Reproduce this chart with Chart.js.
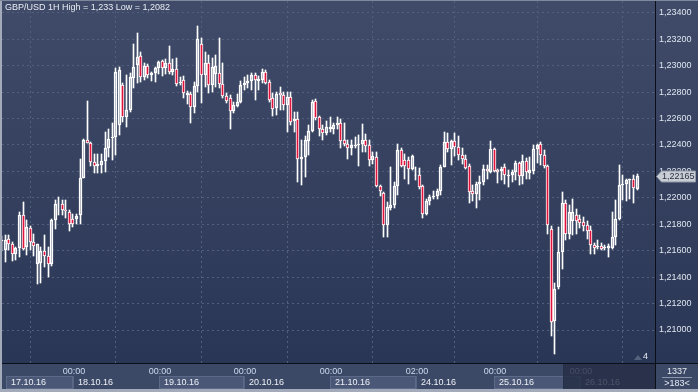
<!DOCTYPE html>
<html><head><meta charset="utf-8">
<script src="https://cdn.jsdelivr.net/npm/chart.js@4"></script>
<style>html,body{margin:0;padding:0;background:#2e3956;overflow:hidden}#wrap{position:relative;width:698px;height:392px}</style>
</head><body><div id="wrap"><canvas id="c" width="698" height="392"></canvas></div>
<script>
const titleText = 'GBP/USD 1H High = 1,233 Low = 1,2082';
const opens  = [1.21673,1.21608,1.21691,1.21653,1.21577,1.21623,1.21868,1.21628,1.21774,1.21666,1.21502,1.21509,1.21598,1.21557,1.21502,1.21835,1.21952,1.21956,1.21911,1.21896,1.21843,1.21840,1.21868,1.22146,1.22436,1.22411,1.22267,1.22239,1.22251,1.22277,1.22378,1.22453,1.22461,1.22549,1.22852,1.22613,1.22663,1.22908,1.23004,1.23075,1.22916,1.22999,1.22928,1.22941,1.22984,1.23034,1.22984,1.23017,1.22948,1.22974,1.22865,1.22890,1.22777,1.22784,1.22683,1.22845,1.23163,1.22928,1.23017,1.22853,1.22936,1.22941,1.22858,1.22769,1.22752,1.22658,1.22694,1.22726,1.22853,1.22865,1.22883,1.22928,1.22883,1.22890,1.22954,1.22878,1.22752,1.22676,1.22789,1.22777,1.22701,1.22759,1.22582,1.22593,1.22297,1.22305,1.22431,1.22507,1.22731,1.22608,1.22524,1.22491,1.22524,1.22524,1.22550,1.22562,1.22436,1.22406,1.22373,1.22391,1.22403,1.22406,1.22436,1.22398,1.22284,1.22309,1.22087,1.22036,1.21791,1.21923,1.21943,1.22087,1.22360,1.22284,1.22284,1.22216,1.22170,1.22175,1.22087,1.21880,1.21973,1.22006,1.22014,1.22049,1.22233,1.22423,1.22372,1.22428,1.22385,1.22327,1.22291,1.22238,1.22049,1.22031,1.22102,1.22120,1.22221,1.22195,1.22372,1.22213,1.22203,1.22233,1.22162,1.22170,1.22195,1.22266,1.22162,1.22279,1.22188,1.22203,1.22372,1.22405,1.22322,1.22238,1.21766,1.21067,1.21324,1.21589,1.21963,1.21729,1.21822,1.21873,1.21842,1.21817,1.21792,1.21754,1.21645,1.21628,1.21635,1.21620,1.21620,1.21620,1.21703,1.21837,1.22100,1.22107,1.22133,1.22140,1.22064];
const highs  = [1.21709,1.21716,1.21716,1.21666,1.21628,1.21893,1.21969,1.21830,1.21784,1.21729,1.21653,1.21628,1.21716,1.21628,1.21840,1.21986,1.22007,1.21986,1.21981,1.21906,1.21880,1.21880,1.22297,1.22441,1.22731,1.22423,1.22335,1.22335,1.22335,1.22494,1.22524,1.22562,1.22984,1.22991,1.22865,1.22928,1.22941,1.23161,1.23244,1.23105,1.23017,1.23009,1.22953,1.22991,1.23034,1.23044,1.23049,1.23150,1.23049,1.23054,1.22916,1.22923,1.22807,1.22802,1.22878,1.23300,1.23206,1.23100,1.23080,1.23055,1.23080,1.23206,1.23017,1.22789,1.22774,1.22726,1.22784,1.22885,1.22911,1.22928,1.22941,1.22941,1.22921,1.22971,1.22966,1.22890,1.22789,1.22802,1.22840,1.22802,1.22802,1.22802,1.22651,1.22651,1.22436,1.22466,1.22550,1.22739,1.22744,1.22618,1.22550,1.22580,1.22613,1.22562,1.22613,1.22593,1.22567,1.22436,1.22436,1.22461,1.22474,1.22557,1.22481,1.22436,1.22347,1.22347,1.22094,1.22044,1.21968,1.22233,1.22120,1.22410,1.22377,1.22334,1.22309,1.22327,1.22233,1.22226,1.22094,1.21988,1.22019,1.22049,1.22064,1.22246,1.22498,1.22493,1.22435,1.22493,1.22468,1.22377,1.22327,1.22258,1.22094,1.22120,1.22162,1.22246,1.22246,1.22430,1.22380,1.22220,1.22233,1.22258,1.22208,1.22213,1.22279,1.22271,1.22322,1.22304,1.22309,1.22397,1.22405,1.22423,1.22359,1.22246,1.21784,1.21354,1.21779,1.22044,1.21981,1.21948,1.21989,1.21913,1.21873,1.21855,1.21822,1.21787,1.21660,1.21678,1.21660,1.21645,1.21653,1.21893,1.21981,1.22251,1.22176,1.22145,1.22145,1.22176,1.22183];
const lows   = [1.21598,1.21514,1.21603,1.21522,1.21532,1.21552,1.21608,1.21565,1.21603,1.21557,1.21345,1.21355,1.21476,1.21401,1.21484,1.21767,1.21868,1.21868,1.21850,1.21749,1.21779,1.21805,1.21805,1.22146,1.22411,1.22239,1.22189,1.22189,1.22191,1.22196,1.22310,1.22284,1.22322,1.22474,1.22575,1.22537,1.22650,1.22827,1.22865,1.22878,1.22890,1.22903,1.22883,1.22878,1.22933,1.22923,1.22933,1.22933,1.22928,1.22847,1.22852,1.22756,1.22706,1.22562,1.22638,1.22802,1.22714,1.22840,1.22789,1.22802,1.22840,1.22827,1.22752,1.22714,1.22524,1.22638,1.22683,1.22714,1.22815,1.22827,1.22815,1.22739,1.22815,1.22865,1.22858,1.22726,1.22618,1.22625,1.22663,1.22663,1.22499,1.22550,1.22499,1.22120,1.22095,1.22158,1.22322,1.22499,1.22587,1.22466,1.22436,1.22474,1.22499,1.22486,1.22524,1.22380,1.22391,1.22297,1.22322,1.22373,1.22239,1.22348,1.22348,1.22239,1.22259,1.22082,1.22014,1.21703,1.21703,1.21905,1.21923,1.22019,1.22233,1.22145,1.22107,1.22208,1.22132,1.22069,1.21847,1.21872,1.21948,1.21988,1.21988,1.22019,1.22233,1.22347,1.22246,1.22317,1.22284,1.22259,1.22221,1.21960,1.21976,1.21925,1.21986,1.22094,1.22145,1.22188,1.22195,1.22112,1.22132,1.22102,1.22082,1.22120,1.22132,1.22094,1.22107,1.22145,1.22145,1.22183,1.22264,1.22246,1.22228,1.21728,1.20958,1.20820,1.21311,1.21463,1.21678,1.21691,1.21716,1.21729,1.21772,1.21746,1.21691,1.21577,1.21577,1.21610,1.21602,1.21602,1.21552,1.21610,1.21645,1.21830,1.21981,1.21974,1.21994,1.21963,1.22057];
const closes = [1.21683,1.21683,1.21648,1.21572,1.21623,1.21868,1.21615,1.21779,1.21666,1.21638,1.21648,1.21598,1.21557,1.21497,1.21835,1.21956,1.21956,1.21911,1.21901,1.21805,1.21805,1.21865,1.22146,1.22436,1.22411,1.22272,1.22242,1.22254,1.22277,1.22378,1.22448,1.22461,1.22953,1.22966,1.22613,1.22663,1.22916,1.22991,1.23067,1.22911,1.22999,1.22928,1.22941,1.22984,1.23029,1.22984,1.23017,1.22948,1.22974,1.22858,1.22878,1.22789,1.22794,1.22683,1.22845,1.23199,1.22928,1.23017,1.22853,1.22991,1.22997,1.22858,1.22769,1.22734,1.22658,1.22701,1.22726,1.22853,1.22865,1.22883,1.22928,1.22890,1.22895,1.22954,1.22865,1.22739,1.22668,1.22784,1.22777,1.22701,1.22764,1.22575,1.22593,1.22297,1.22305,1.22436,1.22507,1.22726,1.22600,1.22524,1.22491,1.22532,1.22532,1.22550,1.22562,1.22428,1.22406,1.22373,1.22398,1.22403,1.22410,1.22436,1.22393,1.22284,1.22317,1.22087,1.22049,1.21791,1.21930,1.21943,1.22087,1.22360,1.22241,1.22241,1.22216,1.22317,1.22175,1.22082,1.21880,1.21973,1.22006,1.22014,1.22049,1.22233,1.22423,1.22372,1.22428,1.22385,1.22327,1.22291,1.22226,1.22044,1.22031,1.22102,1.22120,1.22221,1.22203,1.22372,1.22203,1.22198,1.22221,1.22170,1.22170,1.22195,1.22266,1.22162,1.22279,1.22195,1.22208,1.22372,1.22397,1.22322,1.22238,1.21791,1.21059,1.21311,1.21589,1.21963,1.21729,1.21893,1.21893,1.21822,1.21812,1.21787,1.21746,1.21645,1.21620,1.21635,1.21615,1.21628,1.21635,1.21703,1.21842,1.22100,1.22107,1.22133,1.22140,1.22075,1.22165];
const yTickValues = [1.210,1.212,1.214,1.216,1.218,1.220,1.222,1.224,1.226,1.228,1.230,1.232,1.234];
const timeTickIndex = [20,44,68,92,116,138,162];
const timeTickLabels = ['00:00','00:00','00:00','00:00','02:00','00:00','00:00'];
const dateLabels = ['17.10.16','18.10.16','19.10.16','20.10.16','21.10.16','24.10.16','25.10.16','26.10.16'];
const lastPrice = 1.22165;
const barCountText = '1337';
const visibleBarsText = '>183<';
const markerText = '4';

Chart.defaults.font.family = '"Liberation Sans", Arial, sans-serif';
const FONT = '9px "Liberation Sans", Arial, sans-serif';
const idx = opens.map((_, i) => i);
const upperWick = idx.map(i => ({x: i, y: [Math.max(opens[i], closes[i]), highs[i]]}));
const lowerWick = idx.map(i => ({x: i, y: [lows[i], Math.min(opens[i], closes[i])]}));
const bodies = idx.map(i => ({x: i, y: [Math.min(opens[i], closes[i]), Math.max(opens[i], closes[i])]}));
const fmt = v => v.toFixed(5).replace('.', ',');

const bgPlugin = {
  id: 'bg',
  beforeDraw(chart) {
    const ctx = chart.ctx;
    const ca = chart.chartArea;
    const g = ctx.createLinearGradient(0, 0, 0, ca.bottom);
    g.addColorStop(0, '#3f4b68');
    g.addColorStop(1, '#2a3655');
    ctx.save();
    ctx.fillStyle = g;
    ctx.fillRect(0, 0, chart.width, ca.bottom);
    ctx.fillStyle = '#3c4966';
    ctx.fillRect(0, ca.bottom, chart.width, chart.height - ca.bottom);
    ctx.restore();
  }
};

const snapPlugin = {
  id: 'snap',
  beforeDatasetsDraw(chart) {
    chart.data.datasets.forEach((ds, di) => {
      chart.getDatasetMeta(di).data.forEach(el => {
        el.x = Math.floor(el.x) + 0.5;
        el.y = Math.round(el.y);
        el.base = Math.round(el.base);
      });
    });
  }
};

const decoPlugin = {
  id: 'deco',
  afterDraw(chart) {
    const ctx = chart.ctx;
    const ca = chart.chartArea;
    const xs = chart.scales.x, ys = chart.scales.y;
    ctx.save();
    ctx.font = FONT;
    ctx.fillStyle = '#e8ecf3';
    ctx.textBaseline = 'middle';
    ctx.textAlign = 'left';
    ctx.fillText(titleText, 5, 8);

    const bounds = [ca.left + 4].concat(timeTickIndex.map(v => Math.round(xs.getPixelForValue(v)))).concat([ca.right]);
    for (let k = 0; k < dateLabels.length; k++) {
      const x0 = bounds[k], x1 = bounds[k + 1];
      if (k % 2 === 0) {
        ctx.fillStyle = '#4a5776';
        ctx.fillRect(x0, 376, x1 - x0, 13);
        ctx.strokeStyle = '#5c6987';
        ctx.lineWidth = 1;
        ctx.strokeRect(x0 + 0.5, 376.5, x1 - x0 - 1, 12);
      } else {
        ctx.strokeStyle = '#56637f';
        ctx.beginPath(); ctx.moveTo(x0 + 0.5, 376); ctx.lineTo(x0 + 0.5, 389); ctx.stroke();
      }
      ctx.fillStyle = '#eef1f6';
      ctx.textAlign = 'left';
      ctx.fillText(dateLabels[k], x0 + 5, 383);
    }
    ctx.fillStyle = '#cdd9ee';
    ctx.textAlign = 'center';
    timeTickIndex.forEach((v, k) => {
      ctx.fillText(timeTickLabels[k], Math.round(xs.getPixelForValue(v)) + 1, 371.5);
    });
    ctx.fillStyle = 'rgba(36,45,68,0.82)';
    ctx.fillRect(563, ca.bottom, ca.right - 563, 390 - ca.bottom);
    ctx.strokeStyle = '#262f48';
    ctx.beginPath(); ctx.moveTo(563.5, ca.bottom); ctx.lineTo(563.5, 390); ctx.stroke();

    ctx.strokeStyle = '#0b0e16';
    ctx.lineWidth = 1;
    ctx.beginPath();
    ctx.moveTo(ca.right + 0.5, 0); ctx.lineTo(ca.right + 0.5, 390);
    ctx.moveTo(ca.left, ca.bottom + 0.5); ctx.lineTo(chart.width, ca.bottom + 0.5);
    ctx.stroke();
    ctx.fillStyle = '#a3abbb';
    ctx.fillRect(0, 0, 2, chart.height);
    ctx.fillRect(0, 389, chart.width, 3);
    ctx.fillStyle = '#7e889c';
    ctx.fillRect(0, 0, chart.width, 1);

    ctx.fillStyle = '#55627e';
    ctx.beginPath(); ctx.moveTo(634, 360); ctx.lineTo(638, 355); ctx.lineTo(642, 360); ctx.closePath(); ctx.fill();
    ctx.fillStyle = '#e6ebf3';
    ctx.textAlign = 'left';
    ctx.fillText(markerText, 643, 357);

    ctx.textAlign = 'center';
    ctx.fillStyle = '#e6ebf3';
    ctx.fillText(barCountText, 677, 371.5);
    ctx.fillText(visibleBarsText, 677, 384);
    ctx.strokeStyle = '#8d97ab';
    ctx.beginPath(); ctx.moveTo(662, 377.5); ctx.lineTo(692, 377.5); ctx.stroke();

    const py = Math.round(ys.getPixelForValue(lastPrice)) + 0.5;
    ctx.fillStyle = '#c9cdd5';
    ctx.strokeStyle = '#8e96a5';
    ctx.beginPath();
    ctx.moveTo(656.5, py);
    ctx.lineTo(661.5, py - 5.5);
    ctx.lineTo(695.5, py - 5.5);
    ctx.lineTo(695.5, py + 5.5);
    ctx.lineTo(661.5, py + 5.5);
    ctx.closePath();
    ctx.fill(); ctx.stroke();
    ctx.fillStyle = '#2b3142';
    ctx.textAlign = 'left';
    ctx.fillText(fmt(lastPrice), 662, py + 0.5);
    ctx.restore();
  }
};

new Chart(document.getElementById('c'), {
  type: 'bar',
  data: {
    datasets: [
      {data: upperWick, backgroundColor: '#ffffff', borderWidth: 0, barThickness: 1, grouped: false, order: 2},
      {data: lowerWick, backgroundColor: '#ffffff', borderWidth: 0, barThickness: 1, grouped: false, order: 2},
      {data: bodies, backgroundColor: idx.map(i => closes[i] < opens[i] ? '#e0143c' : 'rgba(0,0,0,0)'),
       borderColor: '#ffffff', borderWidth: 1, borderSkipped: false, barThickness: 3, grouped: false, order: 1}
    ]
  },
  options: {
    responsive: false, animation: false, events: [],
    layout: {padding: {left: 2, top: 1, right: 0, bottom: 0}},
    plugins: {legend: {display: false}, tooltip: {enabled: false}, title: {display: false}},
    scales: {
      x: {
        type: 'linear', offset: false, min: 0.112, max: 183.03,
        afterBuildTicks: s => { s.ticks = timeTickIndex.map(v => ({value: v})); },
        ticks: {display: false},
        grid: {color: '#52607d', lineWidth: 1, drawTicks: false},
        border: {display: false, dash: [2, 3]},
        afterFit: s => { s.height = 29; s.paddingLeft = 0; s.paddingRight = 0; }
      },
      y: {
        position: 'right', min: 1.207504, max: 1.234885,
        afterBuildTicks: s => { s.ticks = yTickValues.map(v => ({value: v})); },
        ticks: {callback: v => fmt(v), color: '#dfe5ef', font: {size: 9}, padding: 4},
        grid: {color: '#52607d', lineWidth: 1, drawTicks: false},
        border: {display: false, dash: [2, 3]},
        afterFit: s => { s.width = 43; s.paddingTop = 0; s.paddingBottom = 0; }
      }
    }
  },
  plugins: [bgPlugin, snapPlugin, decoPlugin]
});
</script>
</body></html>
